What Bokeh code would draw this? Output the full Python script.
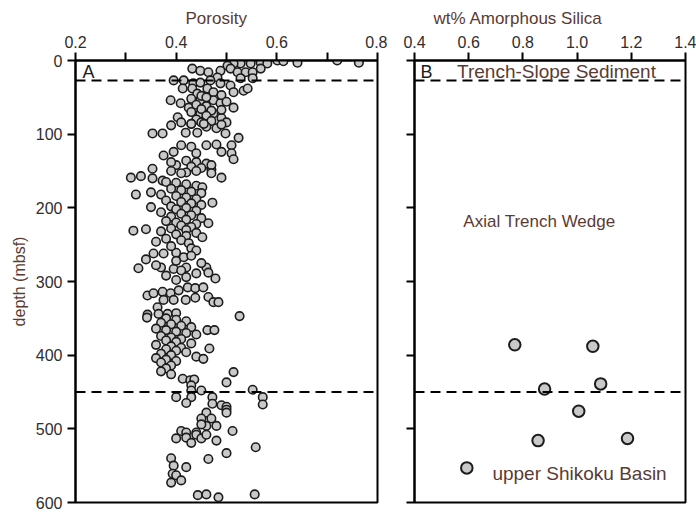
from bokeh.plotting import figure
from bokeh.layouts import row
from bokeh.models import Range1d, FixedTicker, Span, Label, Title, CustomLabelingPolicy
from bokeh.embed import file_html
from bokeh.resources import INLINE

# Panel A: porosity measurements with depth (mbsf)
depth_a = [
    0, 1, 3, 0, 3, 3, 4, 4, 4, 4, 7,
    11, 14, 16, 11, 16, 16, 16, 11, 14, 23, 24, 24,
    27, 27, 31, 30, 27, 31, 34,
    38, 38, 38, 45, 43, 43, 41, 38,
    54, 58, 54, 54, 58, 64, 64, 77, 72, 72,
    48, 50, 52, 60, 62, 66, 68, 70, 75, 78, 80, 82, 84, 86, 90, 92, 47, 56, 67, 84,
    88, 84, 86, 86, 87, 99, 99, 98, 98, 99, 105,
    115, 117, 115, 114, 115, 124, 124, 126, 129, 126, 134,
    136, 138, 140, 142, 144, 146, 148, 150, 152, 138, 142, 150, 153,
    147, 160, 163, 159, 157, 159, 153, 182, 179, 199,
    165, 166, 168, 170, 172, 174, 176, 178, 180, 182, 184, 186, 188, 190, 192, 193,
    194, 196, 198, 200, 202, 204, 206, 208, 210, 212, 214, 216, 218, 220, 221, 222,
    224, 226, 228, 231, 229, 230, 232, 234, 236, 238, 240, 242, 244, 248, 246,
    262, 270, 282, 262, 261, 267, 281, 292, 283, 281, 289, 281, 288, 296,
    252, 255, 258, 265, 272, 275, 278, 285, 294, 298,
    319, 316, 314, 316, 312, 308, 309, 308, 325, 325, 325, 322, 321, 328, 328, 335,
    345, 344, 344, 343, 349, 347,
    350, 352, 354, 356, 358, 360, 362, 364, 366, 368, 370, 372, 374, 376, 378, 380,
    382, 384, 386, 388, 390, 392, 394, 396, 398, 400, 402, 404, 406, 408, 410, 414,
    418, 422, 426,
    366, 366, 391, 405, 423, 437, 432, 434, 433, 441, 448, 448,
    457, 457, 465, 447, 457, 467, 457, 466, 468, 470, 474, 478,
    478, 486, 486, 496, 494, 505, 496,
    503, 503, 505, 513, 512, 508, 519, 513, 508, 516, 525, 533, 541,
    540, 550, 561, 573, 563, 570, 552,
    590, 589, 593, 589,
]
porosity_a = [
    0.601, 0.613, 0.641, 0.720, 0.763, 0.568, 0.581, 0.548, 0.528, 0.514, 0.502,
    0.432, 0.448, 0.464, 0.508, 0.522, 0.538, 0.552, 0.568, 0.488, 0.482, 0.528, 0.552,
    0.395, 0.415, 0.434, 0.448, 0.468, 0.488, 0.508,
    0.413, 0.432, 0.462, 0.442, 0.474, 0.514, 0.534, 0.542,
    0.389, 0.409, 0.448, 0.474, 0.488, 0.514, 0.425, 0.403, 0.448, 0.474,
    0.45, 0.46, 0.43, 0.44, 0.46, 0.45, 0.47, 0.43, 0.46, 0.49, 0.44, 0.47, 0.45, 0.43, 0.46, 0.48, 0.49, 0.50, 0.49, 0.50,
    0.39, 0.41, 0.43, 0.455, 0.49, 0.353, 0.373, 0.419, 0.442, 0.498, 0.524,
    0.41, 0.43, 0.46, 0.48, 0.51, 0.395, 0.49, 0.51, 0.375, 0.44, 0.514,
    0.42, 0.44, 0.46, 0.40, 0.43, 0.45, 0.47, 0.39, 0.42, 0.39, 0.47, 0.44, 0.41,
    0.353, 0.353, 0.373, 0.31, 0.33, 0.49, 0.47, 0.32, 0.35, 0.35,
    0.38, 0.40, 0.42, 0.44, 0.452, 0.39, 0.41, 0.43, 0.45, 0.37, 0.40, 0.42, 0.44, 0.38, 0.41, 0.472,
    0.43, 0.45, 0.39, 0.42, 0.40, 0.44, 0.37, 0.41, 0.43, 0.39, 0.45, 0.42, 0.38, 0.40, 0.464, 0.44,
    0.41, 0.43, 0.39, 0.315, 0.34, 0.42, 0.37, 0.44, 0.40, 0.42, 0.452, 0.38, 0.41, 0.425, 0.36,
    0.355, 0.34, 0.325, 0.375, 0.40, 0.415, 0.37, 0.38, 0.395, 0.42, 0.44, 0.46, 0.464, 0.478,
    0.39, 0.43, 0.44, 0.43, 0.40, 0.45, 0.36, 0.41, 0.42, 0.40,
    0.343, 0.355, 0.373, 0.389, 0.405, 0.423, 0.438, 0.454, 0.375, 0.395, 0.419, 0.438, 0.464, 0.474, 0.484, 0.363,
    0.343, 0.365, 0.383, 0.40, 0.342, 0.526,
    0.38, 0.40, 0.42, 0.37, 0.39, 0.41, 0.43, 0.36, 0.38, 0.40, 0.42, 0.44, 0.37, 0.39, 0.41, 0.38,
    0.40, 0.43, 0.36, 0.39, 0.41, 0.38, 0.40, 0.42, 0.37, 0.39, 0.44, 0.36, 0.38, 0.40, 0.37, 0.39,
    0.38, 0.37, 0.39,
    0.462, 0.476, 0.466, 0.454, 0.514, 0.50, 0.413, 0.428, 0.436, 0.43, 0.43, 0.45,
    0.40, 0.43, 0.42, 0.552, 0.572, 0.572, 0.472, 0.472, 0.49, 0.50, 0.50, 0.50,
    0.46, 0.47, 0.45, 0.46, 0.45, 0.44, 0.48,
    0.512, 0.41, 0.42, 0.40, 0.42, 0.44, 0.43, 0.45, 0.46, 0.48, 0.558, 0.50, 0.464,
    0.39, 0.395, 0.393, 0.39, 0.40, 0.41, 0.42,
    0.443, 0.46, 0.484, 0.556,
]

# Panel B: amorphous silica content (wt%) with depth
depth_b = [386, 388, 446, 439, 476, 516, 513, 553]
silica_b = [0.770, 1.058, 0.880, 1.087, 1.006, 0.856, 1.186, 0.593]

# Unit boundaries (mbsf)
boundaries = [27, 450]

depth_ticks = [0, 100, 200, 300, 400, 500, 600]

TEXT_BROWN = "#5a3b33"
TICK_GREY = "#2e2e2e"
FONT = "Liberation Sans"


def style_axis(ax):
    ax.axis_line_width = 2
    ax.axis_line_color = "black"
    ax.major_tick_line_width = 2
    ax.major_tick_line_color = "black"
    ax.major_tick_out = 8
    ax.major_tick_in = 0
    ax.minor_tick_line_width = 2
    ax.minor_tick_line_color = "black"
    ax.minor_tick_out = 8
    ax.minor_tick_in = 0
    ax.major_label_text_font = FONT
    ax.major_label_text_font_size = "16px"
    ax.major_label_text_color = TICK_GREY
    ax.major_label_standoff = 5


def base_figure(x_start, x_end, frame_w, left, right, title, title_offset):
    p = figure(
        width=left + frame_w + right,
        height=515,
        frame_width=frame_w,
        frame_height=442,
        min_border_left=left,
        min_border_right=right,
        min_border_top=60,
        min_border_bottom=13,
        x_range=Range1d(x_start, x_end),
        y_range=Range1d(600, 0),
        x_axis_location="above",
        toolbar_location=None,
        output_backend="svg",
        background_fill_color="white",
        border_fill_color="white",
    )
    p.title = Title(
        text=title,
        align="left",
        offset=title_offset,
        text_font=FONT,
        text_font_size="17px",
        text_font_style="normal",
        text_color=TEXT_BROWN,
    )
    p.xgrid.visible = False
    p.ygrid.visible = False
    p.outline_line_color = "black"
    p.outline_line_width = 2
    p.outline_line_alpha = 1
    for b in boundaries:
        p.add_layout(Span(location=b, dimension="width", line_color="black",
                          line_width=2, line_dash="10 6"))
    return p


# ---- Panel A ----
pa = base_figure(0.2, 0.8, 302, 75, 10, "Porosity", 110)
pa.xaxis.ticker = FixedTicker(ticks=[0.2, 0.4, 0.6, 0.8], minor_ticks=[0.3, 0.5, 0.7])
pa.xaxis.major_label_overrides = {0.2: "0.2", 0.4: "0.4", 0.6: "0.6", 0.8: "0.8"}
pa.yaxis.ticker = FixedTicker(ticks=depth_ticks)
pa.yaxis.axis_label = "depth (mbsf)"
pa.yaxis.axis_label_text_font = FONT
pa.yaxis.axis_label_text_font_size = "16px"
pa.yaxis.axis_label_text_font_style = "normal"
pa.yaxis.axis_label_text_color = TEXT_BROWN
pa.yaxis.axis_label_standoff = 5
style_axis(pa.xaxis[0])
style_axis(pa.yaxis[0])

pa.scatter(porosity_a, depth_a, size=8.5, fill_color="#c9c9c9",
           line_color="#1c1c1c", line_width=1.6)
pa.add_layout(Label(x=0.214, y=16, text="A", text_font=FONT, text_font_size="18px",
                    text_color="#1c1c1c", text_baseline="alphabetic"))

# ---- Panel B ----
pb = base_figure(0.4, 1.4, 271, 27, 11, "wt% Amorphous Silica", 19)
pb.xaxis.ticker = FixedTicker(ticks=[0.4, 0.6, 0.8, 1.0, 1.2, 1.4])
pb.xaxis.major_label_overrides = {0.4: "0.4", 0.6: "0.6", 0.8: "0.8",
                                  1.0: "1.0", 1.2: "1.2", 1.4: "1.4"}
pb.yaxis.ticker = FixedTicker(ticks=depth_ticks)
style_axis(pb.xaxis[0])
style_axis(pb.yaxis[0])
# depth ticks only on this panel; the numbers are shared with panel A
pb.yaxis.major_label_policy = CustomLabelingPolicy(code="return []")
pb.yaxis.major_label_text_font_size = "1px"
pb.yaxis.major_label_standoff = 0

pb.scatter(silica_b, depth_b, size=11.5, fill_color="#c9c9c9",
           line_color="#1c1c1c", line_width=2)
pb.add_layout(Label(x=0.422, y=16, text="B", text_font=FONT, text_font_size="18px",
                    text_color="#1c1c1c", text_baseline="alphabetic"))
for txt, xv, yv, fs in [("Trench-Slope Sediment", 0.924, 15, "19px"),
                        ("Axial Trench Wedge", 0.861, 218, "17px"),
                        ("upper Shikoku Basin", 1.009, 561, "19px")]:
    pb.add_layout(Label(x=xv, y=yv, text=txt, text_font=FONT, text_font_size=fs,
                        text_color=TEXT_BROWN, text_align="center",
                        text_baseline="alphabetic"))

layout = row(pa, pb)
open("out.html", "w").write(file_html(layout, INLINE))
